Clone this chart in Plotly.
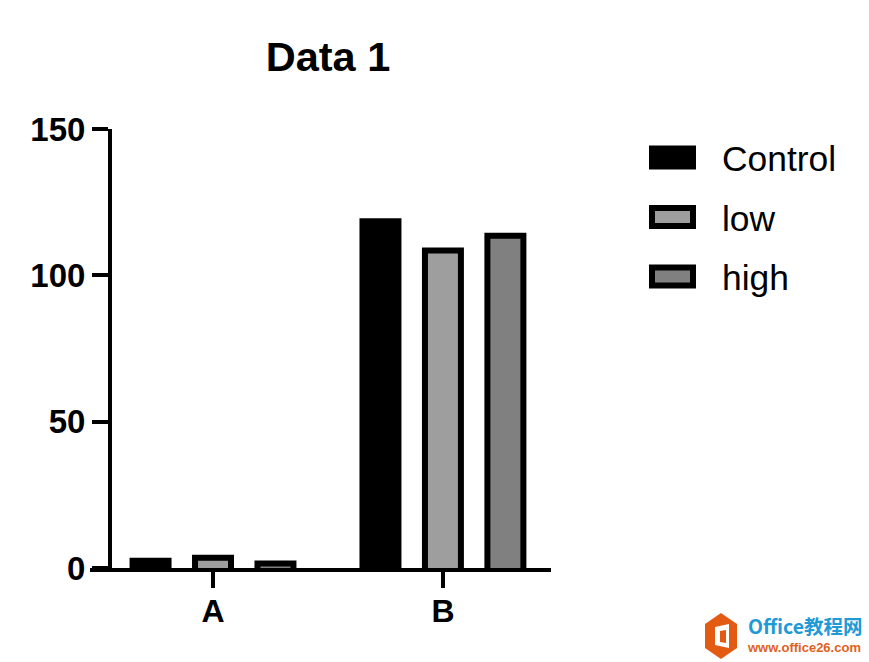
import plotly.graph_objects as go

categories = ["A", "B"]
series_names = ["Control", "low", "high"]
control = [4, 120]
low = [5, 110]
high = [3, 115]
y_ticks = [0, 50, 100, 150]
colors = ["#000000", "#9e9e9e", "#808080"]
title_text = "Data 1"
brand_cn = "Office教程网"
brand_url = "www.office26.com"

W, H = 869, 662
FONT = "Liberation Sans, Arial, sans-serif"


def px_path(points):
    """Closed path for the watermark logo, in paper fractions of the plot area."""
    parts = [f"{(x - 90) / 461:.5f} {(568 - y) / 439:.5f}" for x, y in points]
    return "M " + " L ".join(parts) + " Z"


fig = go.Figure()
# keeps the visible value axis drawn
fig.add_scatter(x=[categories[0]] * len(y_ticks), y=y_ticks, mode="markers", marker=dict(opacity=0),
                showlegend=False, hoverinfo="skip")
for i, (name, vals, col) in enumerate(zip(series_names, [control, low, high], colors)):
    fig.add_bar(x=categories, y=vals, name=name, yaxis="y2", legendgroup=f"g{i}",
                marker=dict(color=col, line=dict(color="#000000", width=6)))

fig.update_layout(
    width=W, height=H, paper_bgcolor="white", plot_bgcolor="white",
    margin=dict(l=90, r=318, t=129, b=94, autoexpand=False),
    barmode="group", bargap=0.185, bargroupgap=0.424,
    title=dict(text=title_text, x=328 / W, xanchor="center", y=1 - 56 / H, yanchor="middle",
               font=dict(family=FONT, size=41.5, color="black", weight="bold")),
    xaxis=dict(type="category", range=[-0.535, 1.47], showline=True, linewidth=4, linecolor="black",
               ticks="outside", ticklen=16, tickwidth=4, tickcolor="black", showgrid=False,
               ticklabelstandoff=-4,
               tickfont=dict(family=FONT, size=32, color="black", weight="bold")),
    yaxis=dict(range=[0, 150], tickvals=y_ticks, anchor="free", position=20 / 461, showline=True,
               linewidth=4, linecolor="black", ticks="outside", ticklen=16, tickwidth=4,
               tickcolor="black", showgrid=False, zeroline=False, ticklabelstandoff=0,
               tickfont=dict(family=FONT, size=33, color="black", weight="bold")),
    # bars carry a centred outline; this hidden scale keeps the outline's outer edge on the value
    yaxis2=dict(range=[1.5, 151.5], overlaying="y", visible=False, anchor="x"),
    legend=dict(xref="container", yref="container", x=623 / W, y=1 - 128 / H, xanchor="left", yanchor="top",
                itemwidth=89, tracegroupgap=10.5, traceorder="grouped", itemclick=False, itemdoubleclick=False,
                font=dict(family=FONT, size=35.4, color="black"), bgcolor="rgba(0,0,0,0)"),
)

# watermark
fig.add_shape(type="path", xref="paper", yref="paper", line_width=0, fillcolor="#e35b12",
              path=px_path([(721, 613), (737, 624), (737, 648), (721, 659), (705, 648), (705, 624)]))
fig.add_shape(type="path", xref="paper", yref="paper", line_width=0, fillcolor="white",
              path=px_path([(715, 627), (729, 624), (729, 648), (715, 645)]))
fig.add_shape(type="path", xref="paper", yref="paper", line_width=0, fillcolor="#e35b12",
              path=px_path([(720, 631), (726, 630), (726, 643), (720, 642)]))
fig.add_annotation(text=f"<b>{brand_cn}</b>", xref="paper", yref="paper", x=(746 - 90) / 461, y=(568 - 625) / 439,
                   xanchor="left", yanchor="middle", showarrow=False,
                   font=dict(family="Noto Sans CJK SC, Liberation Sans", size=19.5, color="#1f9ad6"))
fig.add_annotation(text=f"<b>{brand_url}</b>", xref="paper", yref="paper", x=(745 - 90) / 461, y=(568 - 647.5) / 439,
                   xanchor="left", yanchor="middle", showarrow=False,
                   font=dict(family=FONT, size=13, color="#e0611a"))

post = """
document.body.style.margin='0';
document.querySelectorAll('.legend .legendbar path, .legend .legendpoints path').forEach(function(p){
  p.setAttribute('d','M20.5,9H-20.5V-9H20.5Z');
  p.style.strokeWidth='6px';
});
"""
fig.write_html("out.html", post_script=post, config=dict(displayModeBar=False))
